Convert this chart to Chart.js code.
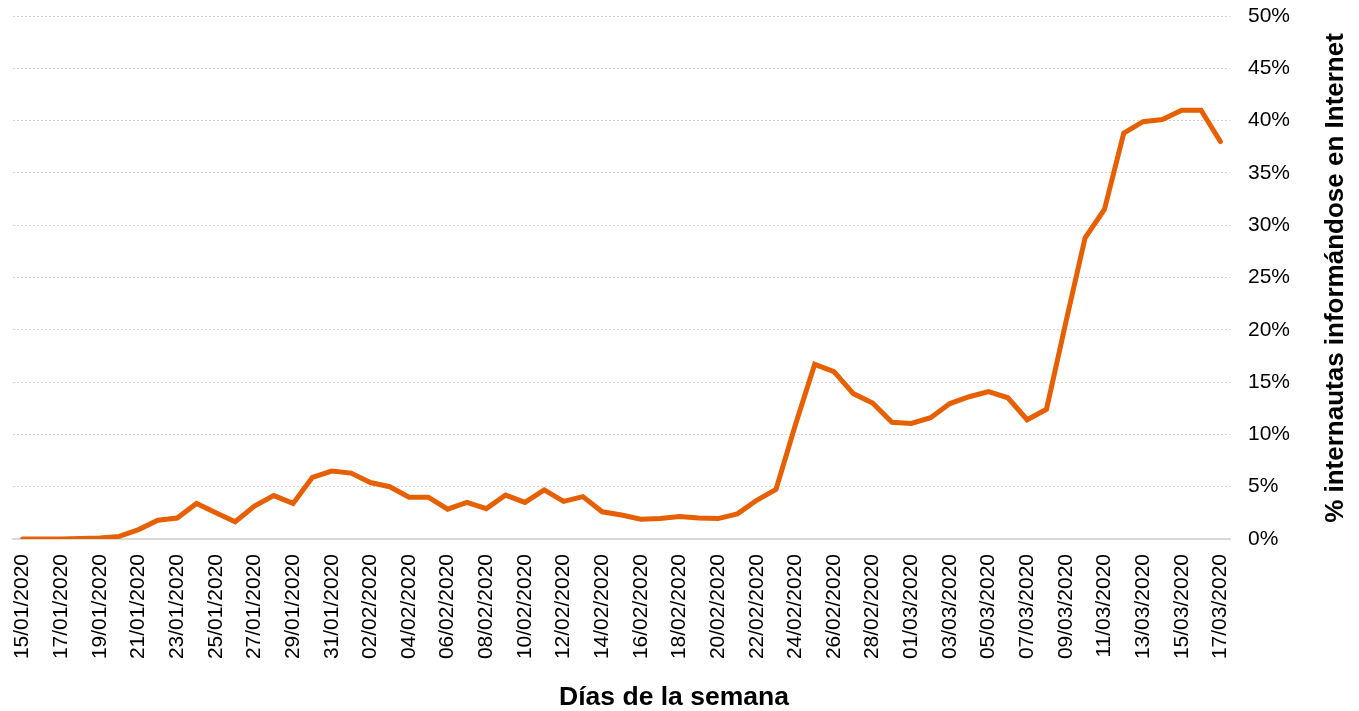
<!DOCTYPE html>
<html>
<head>
<meta charset="utf-8">
<script src="https://cdn.jsdelivr.net/npm/chart.js@4/dist/chart.umd.min.js"></script>
<style>
html,body{margin:0;padding:0;background:#fff;}
#wrap{width:1359px;height:711px;position:relative;}
</style>
</head>
<body>
<div id="wrap"><canvas id="c" width="1359" height="711"></canvas></div>
<script>
const dates = [
  "15/01/2020","16/01/2020","17/01/2020","18/01/2020","19/01/2020","20/01/2020","21/01/2020","22/01/2020","23/01/2020","24/01/2020",
  "25/01/2020","26/01/2020","27/01/2020","28/01/2020","29/01/2020","30/01/2020","31/01/2020",
  "01/02/2020","02/02/2020","03/02/2020","04/02/2020","05/02/2020","06/02/2020","07/02/2020","08/02/2020","09/02/2020","10/02/2020",
  "11/02/2020","12/02/2020","13/02/2020","14/02/2020","15/02/2020","16/02/2020","17/02/2020","18/02/2020","19/02/2020","20/02/2020",
  "21/02/2020","22/02/2020","23/02/2020","24/02/2020","25/02/2020","26/02/2020","27/02/2020","28/02/2020","29/02/2020",
  "01/03/2020","02/03/2020","03/03/2020","04/03/2020","05/03/2020","06/03/2020","07/03/2020","08/03/2020","09/03/2020","10/03/2020",
  "11/03/2020","12/03/2020","13/03/2020","14/03/2020","15/03/2020","16/03/2020","17/03/2020"
];
const internautas = [
  0, 0, 0, 0.05, 0.1, 0.25, 0.9, 1.8, 2.0, 3.4,
  2.5, 1.65, 3.15, 4.15, 3.4, 5.9, 6.5,
  6.3, 5.4, 5.0, 4.0, 4.0, 2.85, 3.5, 2.9, 4.2, 3.5,
  4.7, 3.6, 4.05, 2.6, 2.3, 1.9, 1.95, 2.15, 2.0, 1.95,
  2.4, 3.7, 4.75, 10.9, 16.7, 16.0, 13.9, 13.0, 11.15,
  11.05, 11.6, 12.95, 13.6, 14.1, 13.5, 11.4, 12.4, 20.7, 28.8,
  31.5, 38.8, 39.9, 40.1, 41.0, 41.0, 38.0
];
const yTicks = [0,5,10,15,20,25,30,35,40,45,50];
const xTitle = "Días de la semana";
const yTitle = "% internautas informándose en Internet";

const FONT = "Arial, 'Liberation Sans', sans-serif";

const titlesPlugin = {
  id: 'titles',
  afterDraw(chart) {
    const ctx = chart.ctx;
    ctx.save();
    ctx.font = "bold 26.5px " + FONT;
    ctx.fillStyle = "#000";
    ctx.textAlign = "center";
    ctx.textBaseline = "middle";
    ctx.fillText(xTitle, 674, 698);
    ctx.font = "bold 26px " + FONT;
    ctx.translate(1336, 278);
    ctx.rotate(-Math.PI / 2);
    ctx.fillText(yTitle, 0, 0);
    ctx.restore();
  }
};

new Chart(document.getElementById('c'), {
  type: 'line',
  data: {
    labels: dates,
    datasets: [{
      data: internautas,
      borderColor: '#E65F00',
      borderWidth: 5,
      pointRadius: 0,
      tension: 0,
      fill: false,
      borderCapStyle: 'round',
      borderJoinStyle: 'miter'
    }]
  },
  options: {
    responsive: false,
    animation: false,
    devicePixelRatio: 1,
    layout: { padding: { left: 13, top: 0, right: 0, bottom: 0 } },
    plugins: { legend: { display: false }, tooltip: { enabled: false } },
    scales: {
      x: {
        offset: true,
        grid: { display: false, drawTicks: false },
        border: { display: true, color: '#d9d9d9', width: 2 },
        ticks: {
          autoSkip: false,
          minRotation: 90,
          maxRotation: 90,
          padding: 15,
          color: '#000',
          font: { family: FONT, size: 21 },
          callback: function(v, i) { return i % 2 === 0 ? dates[i] : ''; }
        },
        afterFit(scale) { scale.height = 172; }
      },
      y: {
        position: 'right',
        min: 0,
        max: 50,
        afterBuildTicks(scale) { scale.ticks = yTicks.map(v => ({ value: v })); },
        grid: {
          color: (c) => c.tick && c.tick.value === 0 ? 'rgba(0,0,0,0)' : '#d3d3d3',
          lineWidth: 1,
          drawTicks: false
        },
        border: { display: false, dash: [2, 2] },
        ticks: {
          padding: 18,
          color: '#000',
          font: { family: FONT, size: 21 },
          callback: (v) => v + '%'
        },
        afterFit(scale) {
          scale.width = 129;
          scale.paddingTop = 16;
          scale.paddingBottom = 0;
        }
      }
    }
  },
  plugins: [titlesPlugin]
});
</script>
</body>
</html>
